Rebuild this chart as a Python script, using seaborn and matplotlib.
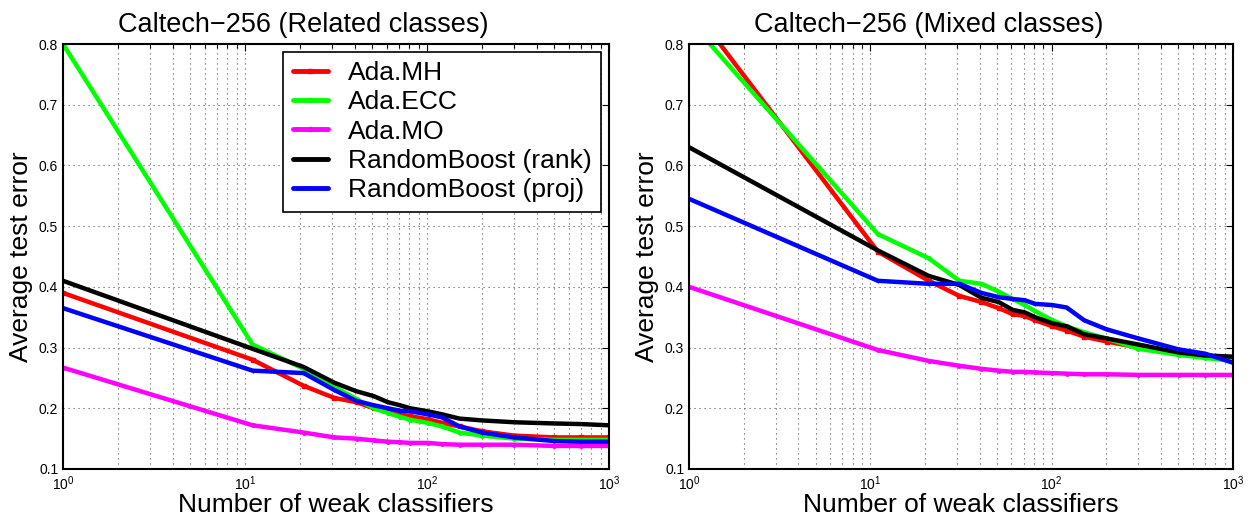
import numpy as np
import pandas as pd
import matplotlib
matplotlib.use("Agg")
import matplotlib.pyplot as plt
import seaborn as sns
from matplotlib.lines import Line2D
from matplotlib.ticker import LogLocator, FixedLocator, FuncFormatter

# ---------------- data ----------------
x_steps = [1, 11, 21, 31, 41, 51, 61, 71, 81, 101, 121, 151, 201, 301, 501, 701, 1000]

methods = ["Ada.MH", "Ada.ECC", "Ada.MO", "RandomBoost (rank)", "RandomBoost (proj)"]

# Left panel: Related classes
rel_mh   = [0.390, 0.280, 0.237, 0.217, 0.210, 0.200, 0.195, 0.190, 0.187, 0.182, 0.176, 0.170, 0.162, 0.155, 0.152, 0.152, 0.152]
rel_ecc  = [0.800, 0.305, 0.265, 0.235, 0.215, 0.200, 0.192, 0.186, 0.181, 0.176, 0.170, 0.160, 0.155, 0.150, 0.148, 0.148, 0.148]
rel_mo   = [0.267, 0.172, 0.160, 0.152, 0.150, 0.147, 0.145, 0.144, 0.143, 0.143, 0.141, 0.140, 0.140, 0.140, 0.138, 0.138, 0.138]
rel_rank = [0.410, 0.298, 0.268, 0.242, 0.228, 0.220, 0.210, 0.205, 0.200, 0.195, 0.190, 0.183, 0.180, 0.177, 0.175, 0.174, 0.172]
rel_proj = [0.365, 0.262, 0.258, 0.230, 0.212, 0.205, 0.200, 0.196, 0.195, 0.190, 0.185, 0.170, 0.160, 0.152, 0.146, 0.145, 0.145]

# Right panel: Mixed classes
mix_mh   = [0.867, 0.458, 0.410, 0.385, 0.375, 0.365, 0.355, 0.352, 0.345, 0.335, 0.328, 0.318, 0.310, 0.300, 0.290, 0.287, 0.283]
mix_ecc  = [0.839, 0.487, 0.447, 0.410, 0.405, 0.392, 0.380, 0.370, 0.360, 0.345, 0.335, 0.325, 0.315, 0.298, 0.288, 0.283, 0.278]
mix_mo   = [0.400, 0.296, 0.278, 0.270, 0.265, 0.262, 0.260, 0.260, 0.259, 0.258, 0.257, 0.256, 0.256, 0.255, 0.255, 0.255, 0.255]
mix_rank = [0.630, 0.460, 0.418, 0.403, 0.382, 0.375, 0.362, 0.358, 0.350, 0.340, 0.335, 0.322, 0.315, 0.305, 0.292, 0.287, 0.285]
mix_proj = [0.545, 0.410, 0.405, 0.405, 0.390, 0.383, 0.380, 0.378, 0.372, 0.370, 0.366, 0.345, 0.330, 0.315, 0.297, 0.290, 0.275]

titles = ["Caltech\u2212256 (Related classes)", "Caltech\u2212256 (Mixed classes)"]
xlabel = "Number of weak classifiers"
ylabel = "Average test error"
y_ticks = [0.1, 0.2, 0.3, 0.4, 0.5, 0.6, 0.7, 0.8]

colors = {"Ada.MH": "#ff0000", "Ada.ECC": "#00ff00", "Ada.MO": "#ff00ff",
          "RandomBoost (rank)": "#000000", "RandomBoost (proj)": "#0000ff"}
markers = {"Ada.MH": "s", "Ada.ECC": "o", "Ada.MO": "o",
           "RandomBoost (rank)": "", "RandomBoost (proj)": "+"}


def build(series):
    rows = []
    for m, vals in zip(methods, series):
        for xv, yv in zip(x_steps, vals):
            rows.append({"x": xv, "y": yv, "method": m})
    return pd.DataFrame(rows)


df_rel = build([rel_mh, rel_ecc, rel_mo, rel_rank, rel_proj])
df_mix = build([mix_mh, mix_ecc, mix_mo, mix_rank, mix_proj])

# ---------------- style ----------------
sns.set_style("white")
plt.rcParams["font.family"] = ["Liberation Sans", "DejaVu Sans"]
plt.rcParams["axes.unicode_minus"] = True
plt.rcParams["text.color"] = "black"
plt.rcParams["axes.labelcolor"] = "black"
plt.rcParams["xtick.color"] = "black"
plt.rcParams["ytick.color"] = "black"

fig = plt.figure(figsize=(12.55, 5.21), dpi=100)
ax1 = fig.add_axes([63 / 1255, 52 / 521, 546 / 1255, 425 / 521])
ax2 = fig.add_axes([689 / 1255, 52 / 521, 544 / 1255, 425 / 521])

for ax, df, title, legend in [(ax1, df_rel, titles[0], True), (ax2, df_mix, titles[1], False)]:
    sns.lineplot(data=df, x="x", y="y", hue="method", hue_order=methods,
                 palette=colors, estimator=None, sort=False, linewidth=3.2,
                 ax=ax, legend=False)
    for line, m in zip(ax.get_lines(), methods):
        if markers[m]:
            line.set_marker(markers[m])
            line.set_markersize(2.5)
            line.set_markeredgewidth(1.0)
            line.set_markeredgecolor(colors[m])
            line.set_markerfacecolor(colors[m])
    ax.set_xscale("log")
    ax.set_xlim(1, 1000)
    ax.set_ylim(0.1, 0.8)
    ax.yaxis.set_major_locator(FixedLocator(y_ticks))
    ax.yaxis.set_major_formatter(FuncFormatter(lambda v, p: f"{v:.1f}"))
    ax.xaxis.set_major_locator(LogLocator(base=10, numticks=10))
    ax.xaxis.set_minor_locator(LogLocator(base=10, subs=np.arange(2, 10), numticks=20))
    ax.grid(True, which="major", axis="both", linestyle=(0, (1, 3.5)), color="#555555", linewidth=0.8)
    ax.grid(True, which="minor", axis="x", linestyle=(0, (1, 3.5)), color="#555555", linewidth=0.8)
    ax.tick_params(which="both", direction="in", top=True, right=True, labelsize=10,
                   length=5, width=0.8, color="black", labelcolor="black")
    ax.tick_params(which="minor", length=3)
    ax.tick_params(axis="x", pad=4)
    for s in ax.spines.values():
        s.set_linewidth(1.5)
        s.set_color("black")
    ax.set_title(title, fontsize=19.5, pad=9, color="black", x=0.44)
    ax.set_xlabel(xlabel, fontsize=19, labelpad=0, color="black")
    ax.set_ylabel(ylabel, fontsize=19, labelpad=4, color="black")
    if legend:
        handles = []
        for m in methods:
            handles.append(Line2D([0], [0], color=colors[m], lw=3.5,
                                  marker=markers[m] if markers[m] else None,
                                  markersize=3, markeredgecolor=colors[m],
                                  markerfacecolor=colors[m]))
        leg = ax.legend(handles, methods, loc="upper right", fontsize=19,
                        frameon=True, fancybox=False, framealpha=1,
                        edgecolor="black", handlelength=1.35, borderaxespad=0.3,
                        labelspacing=0.2, handletextpad=0.75, borderpad=0.35)
        leg.get_frame().set_linewidth(1.2)
        for t in leg.get_texts():
            t.set_color("black")

fig.savefig("out.png", dpi=100)
